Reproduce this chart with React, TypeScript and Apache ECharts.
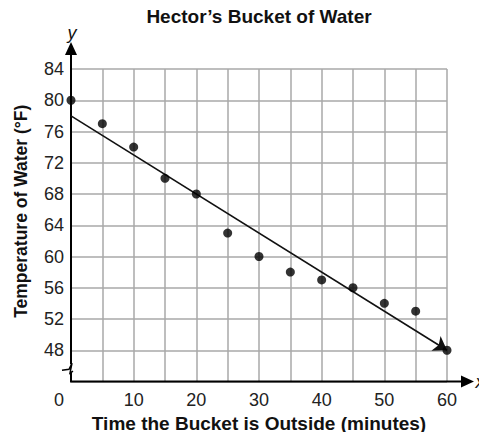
import React, { useEffect, useRef } from 'react';
import * as echarts from 'echarts';

const titleText = "Hector’s Bucket of Water";
const xName = 'Time the Bucket is Outside (minutes)';
const yName = 'Temperature of Water (°F)';
const times = [0, 5, 10, 15, 20, 25, 30, 35, 40, 45, 50, 55, 60];
const temps = [80, 77, 74, 70, 68, 63, 60, 58, 57, 56, 54, 53, 48];
const trendStart = [0, 78];
const trendEnd = [60, 48];
const xMin = 0, xMax = 60, xStep = 5;
const yMin = 44, yMax = 84, yStep = 4;

const FONT = '"Liberation Sans", Arial, sans-serif';

export default function App() {
  const ref = useRef<HTMLDivElement>(null);
  useEffect(() => {
    if (!ref.current) return;
    const chart = echarts.init(ref.current, undefined, { renderer: 'svg' });
    const option: any = {
      animation: false,
      backgroundColor: '#fff',
      title: {
        text: titleText,
        left: 259,
        textAlign: 'center',
        top: 7,
        padding: 0,
        textStyle: { fontFamily: FONT, fontSize: 19, fontWeight: 'bold', color: '#111' },
      },
      grid: { left: 71, right: 40, top: 69, bottom: 58.5, containLabel: false },
      xAxis: {
        type: 'value',
        min: xMin,
        max: xMax,
        interval: xStep,
        name: xName,
        nameLocation: 'middle',
        nameGap: 32,
        nameTextStyle: { fontFamily: FONT, fontSize: 19, fontWeight: 'bold', color: '#111' },
        axisLine: { show: false },
        axisTick: { show: false },
        splitLine: { show: true, lineStyle: { color: '#a8a8a8', width: 1.5 } },
        axisLabel: {
          margin: 9,
          fontFamily: FONT,
          fontSize: 18,
          color: '#222',
          formatter: (v: number) => (v === 0 ? '{z|0}' : v % 10 === 0 ? String(v) : ''),
          rich: { z: { padding: [0, 24, 0, 0], fontFamily: FONT, fontSize: 18, color: '#222' } },
        },
      },
      yAxis: {
        type: 'value',
        min: yMin,
        max: yMax,
        interval: yStep,
        name: yName,
        nameLocation: 'middle',
        nameGap: 41,
        nameTextStyle: { fontFamily: FONT, fontSize: 17.5, fontWeight: 'bold', color: '#111', padding: [0, 0, 0, 28] },
        axisLine: { show: false },
        axisTick: { show: false },
        splitLine: { show: true, lineStyle: { color: '#a8a8a8', width: 1.5 } },
        axisLabel: {
          margin: 7,
          fontFamily: FONT,
          fontSize: 18,
          color: '#222',
          formatter: (v: number) => (v === yMin ? '' : String(v)),
        },
      },
      series: [
        {
          type: 'lines',
          coordinateSystem: 'cartesian2d',
          z: 15,
          symbol: ['none', 'arrow'],
          symbolSize: 13,
          lineStyle: { color: '#111', width: 1.6, opacity: 1 },
          data: [{ coords: [trendStart, trendEnd] }],
        },
        {
          type: 'scatter',
          z: 20,
          clip: false,
          symbol: 'circle',
          symbolSize: 9,
          itemStyle: { color: '#000' },
          data: times.map((t, i) => [t, temps[i]]),
        },
      ],
    };
    chart.setOption(option);
    const p = (x: number, y: number) => chart.convertToPixel({ gridIndex: 0 }, [x, y]) as number[];
    const [ox, oy] = p(xMin, yMin);
    const topY = p(xMin, yMax)[1];
    const rightX = p(xMax, yMin)[0];
    const by = p(xMin, 45.7)[1];
    const stroke = { stroke: '#000', lineWidth: 2 };
    chart.setOption({
      graphic: [
        { type: 'line', z: 10, shape: { x1: ox, y1: oy, x2: ox, y2: topY - 16 }, style: stroke },
        { type: 'polygon', z: 10, shape: { points: [[ox, topY - 27], [ox - 6, topY - 14], [ox + 6, topY - 14]] }, style: { fill: '#000' } },
        { type: 'line', z: 10, shape: { x1: ox - 1, y1: oy, x2: rightX + 16, y2: oy }, style: stroke },
        { type: 'polygon', z: 10, shape: { points: [[rightX + 27, oy], [rightX + 14, oy - 6], [rightX + 14, oy + 6]] }, style: { fill: '#000' } },
        { type: 'rect', z: 11, shape: { x: ox - 2, y: by - 4, width: 4, height: 8 }, style: { fill: '#fff' } },
        { type: 'polyline', z: 12, shape: { points: [[ox - 9, by + 2], [ox - 2, by + 1], [ox + 1, by - 5], [ox - 1, by + 5], [ox + 2, by + 3]] }, style: { stroke: '#000', lineWidth: 1.5, fill: null } },
        { type: 'text', z: 12, x: ox + 1, y: topY - 36, style: { text: 'y', font: `italic 18px ${FONT}`, fill: '#111', align: 'center', verticalAlign: 'middle' } },
        { type: 'text', z: 12, x: rightX + 33, y: oy, style: { text: 'x', font: `italic 18px ${FONT}`, fill: '#111', align: 'center', verticalAlign: 'middle' } },
      ],
    });
    return () => chart.dispose();
  }, []);
  return <div ref={ref} style={{ width: 487, height: 440, margin: -8 }} />;
}
